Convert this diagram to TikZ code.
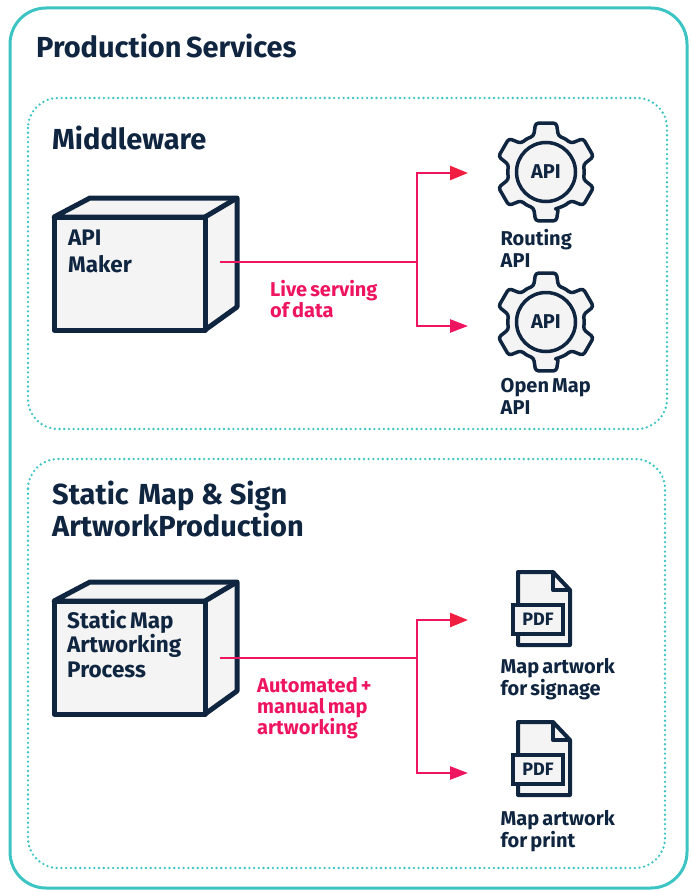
\documentclass[tikz,border=0pt]{standalone}
\usepackage{fontspec}
\setmainfont{Fira Sans}[WordSpace=0.65]
\usetikzlibrary{arrows.meta,positioning}
\definecolor{navy}{HTML}{0F2540}
\definecolor{teal}{HTML}{3CC4C4}
\definecolor{shade}{HTML}{F4F4F4}
\definecolor{pink}{HTML}{EE1460}
\definecolor{redhead}{HTML}{F01E40}
\begin{document}
\begin{tikzpicture}[x=1pt, y=-1pt,
            every node/.style={inner sep=0pt, text=navy, align=left},
            frame/.style={draw=teal, line width=3pt, rounded corners=36pt},
            dots/.style={draw=teal, line width=2.6pt, line cap=round, dash pattern=on 0pt off 4.7pt, rounded corners=30pt},
            heading/.style={font=\fontsize{29}{32}\selectfont\bfseries, anchor=north west},
            boxtext/.style={font=\fontsize{22.5}{24.5}\selectfont\bfseries, anchor=north west},
            caption/.style={font=\fontsize{20}{22}\selectfont\bfseries, anchor=north west},
            flowtext/.style={font=\fontsize{20}{21}\selectfont\bfseries, anchor=north west, text=pink},
            flow/.style={draw=pink, line width=2.5pt},
            tipred/.style={-{Triangle[length=18pt,width=14pt,fill=redhead,color=redhead]}, flow},
            tippink/.style={-{Triangle[length=18pt,width=13pt]}, flow},
            outline/.style={draw=navy, fill=shade, line join=round},
            cube/.pic={
                \draw[outline, line width=5pt] (-1,-19) -- (146,-19) -- (146,90) -- (114,113) -- (114,0) -- (-37,0) -- cycle;
                \draw[outline, line width=5pt] (-37,0) rectangle (114,113);
                \draw[navy, line width=5pt, line join=round] (114,0) -- (146,-19);
            },
            gear/.pic={
                \draw[outline, line width=3.5pt, rounded corners=3pt] (72:38)
                    \foreach \a in {90,150,...,390} {
                        -- (\a-19:38) -- (\a-12:50) -- (\a+12:50) -- (\a+19:38) -- (\a+30:38.5)
                    } -- cycle;
                \node[circle, draw=navy, fill=shade, line width=3.5pt, minimum size=59pt,
                      font=\fontsize{20}{22}\selectfont\bfseries] (-hub) at (0,0) {API};
            },
            pdfsheet/.pic={
                \draw[outline, line width=4pt] (0,0) -- (35,0) -- (52,18) -- (52,73) -- (0,73) -- cycle;
                \draw[navy, line width=4pt, line join=round] (35,0) -- (35,18) -- (52,18);
                \node[draw=navy, fill=shade, line width=4pt, minimum width=50pt, minimum height=29pt,
                      font=\fontsize{18}{20}\selectfont\bfseries] (-tag) at (20,47) {PDF};
            }]
        \useasboundingbox (0,0) rectangle (692,891);
        \draw[frame] (10,8) rectangle (687,888);
        \draw[dots] (28,98) rectangle (667,429);
        \draw[dots] (28,459) rectangle (665,868);

        \node[heading] (title) at (36,34) {Production Services};
        \node[heading] (middleware) at (52,126) {Middleware};
        \node[heading, text width=340pt] (static) at (52,481) {Static Map\kern-3pt{} \&\kern-3pt{} Sign\\ArtworkProduction};

        \pic (maker) at (91,217) {cube};
        \pic (artworking) at (91,601) {cube};
        \node[boxtext] (makertext) at (68,230) {API\\[2.5pt]Maker};
        \node[boxtext] (artworkingtext) at (67,610) {Static Map\\Artworking\\Process};

        \pic (routing) at (546,172) {gear};
        \pic (openmap) at (546,322) {gear};
        \node[caption] (routingtext) at (500.5,229) {Routing\\API};
        \node[caption] (openmaptext) at (500.5,378) {Open Map\\API};

        \pic (signage) at (518,572) {pdfsheet};
        \pic (print) at (518,722) {pdfsheet};
        \node[caption] (signagetext) at (500.5,658) {Map artwork\\for signage};
        \node[caption] (printtext) at (500.5,810) {Map artwork\\for print};

        \coordinate (makerout) at (220,262);
        \coordinate (makerfork) at (417,262);
        \coordinate (routingin) at (468,173);
        \coordinate (openmapin) at (468,326);
        \coordinate (artworkingout) at (220,658);
        \coordinate (artworkingfork) at (417,658);
        \coordinate (signagein) at (468,620);
        \coordinate (printin) at (468,773);

        \draw[flow] (makerout) -- (makerfork);
        \draw[tipred] (makerfork) |- (routingin);
        \draw[tippink] (makerfork) |- (openmapin);
        \draw[flow] (artworkingout) -- (artworkingfork);
        \draw[tipred] (artworkingfork) |- (signagein);
        \draw[tippink] (artworkingfork) |- (printin);

        \node[flowtext] (livetext) at (270,280) {Live serving\\of data};
        \node[flowtext] (autotext) at (257,677) {Automated +\\manual map\\artworking};
\end{tikzpicture}
\end{document}
